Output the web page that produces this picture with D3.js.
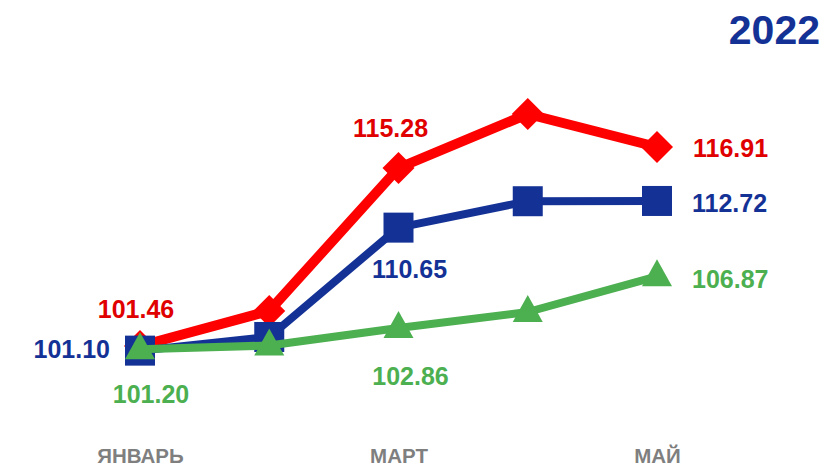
<!DOCTYPE html>
<html>
<head>
<meta charset="utf-8">
<script src="https://cdn.jsdelivr.net/npm/d3@7"></script>
<style>
  body { margin: 0; background: #fff; }
  svg { display: block; }
</style>
</head>
<body>
<div id="chart"></div>
<script>
var width = 828,
    height = 470;

var months = ["ЯНВАРЬ", "ФЕВРАЛЬ", "МАРТ", "АПРЕЛЬ", "МАЙ"];
var shownMonths = ["ЯНВАРЬ", "МАРТ", "МАЙ"];
var redValues = [101.46, 104.18, 115.28, 119.47, 116.91];
var blueValues = [101.10, 102.16, 110.65, 112.70, 112.72];
var greenValues = [101.20, 101.50, 102.86, 104.10, 106.87];
var yearLabel = "2022";

var svg = d3.select("#chart").append("svg")
  .attr("width", width)
  .attr("height", height);

var x = d3.scalePoint()
    .domain(months)
    .range([140, 657]);

var y = d3.scaleLinear()
    .domain([100, 120])
    .range([364.8, 107.2]);

var line = d3.line()
    .x(function(d, i) { return x(months[i]); })
    .y(function(d) { return y(d); });

var series = [
  {key: "red", values: redValues, color: "#ff0000", width: 10, symbol: "diamond"},
  {key: "blue", values: blueValues, color: "#143296", width: 8, symbol: "square"},
  {key: "green", values: greenValues, color: "#4caf50", width: 8, symbol: "triangle"}
];

function drawMarker(g, s, cx, cy) {
  if (s.symbol == "diamond") {
    var r = 16;
    g.append("path")
      .attr("d", "M" + cx + "," + (cy - r) + "L" + (cx + r) + "," + cy + "L" + cx + "," + (cy + r) + "L" + (cx - r) + "," + cy + "Z")
      .attr("fill", s.color);
  } else if (s.symbol == "square") {
    g.append("rect")
      .attr("x", cx - 15).attr("y", cy - 15)
      .attr("width", 30).attr("height", 30)
      .attr("fill", s.color);
  } else {
    g.append("path")
      .attr("d", "M" + cx + "," + (cy - 17) + "L" + (cx + 15) + "," + (cy + 10) + "L" + (cx - 15) + "," + (cy + 10) + "Z")
      .attr("fill", s.color);
  }
}

series.forEach(function(s) {
  var g = svg.append("g").attr("class", "series-" + s.key);
  g.append("path")
    .datum(s.values)
    .attr("fill", "none")
    .attr("stroke", s.color)
    .attr("stroke-width", s.width)
    .attr("stroke-linejoin", "round")
    .attr("d", line);
  s.values.forEach(function(v, i) {
    drawMarker(g, s, x(months[i]), y(v));
  });
});

// x axis labels (every other month)
var axis = d3.axisBottom(x)
    .tickSize(0)
    .tickPadding(0)
    .tickFormat(function(d) { return shownMonths.indexOf(d) >= 0 ? d : ""; });

var gx = svg.append("g")
    .attr("transform", "translate(0,463)")
    .call(axis);
gx.select(".domain").remove();
gx.selectAll("text")
    .attr("fill", "#7f7f7f")
    .attr("font-family", "'Liberation Sans', Arial, sans-serif")
    .attr("font-weight", "bold")
    .attr("font-size", 20.5)
    .attr("dy", 0);

// value labels
var labelFont = "'Liberation Sans', Arial, sans-serif";
function label(txt, xx, yy, color, anchor) {
  svg.append("text")
    .attr("x", xx).attr("y", yy)
    .attr("fill", color)
    .attr("font-family", labelFont)
    .attr("font-weight", "bold")
    .attr("font-size", 25)
    .attr("text-anchor", anchor)
    .text(txt);
}

var xs = months.map(function(m) { return x(m); });
label(redValues[0].toFixed(2), xs[0] - 4, 318, "#e00000", "middle");
label(redValues[2].toFixed(2), xs[2] - 8, 137, "#e00000", "middle");
label(redValues[4].toFixed(2), xs[4] + 36, 157, "#e00000", "start");
label(blueValues[0].toFixed(2), xs[0] - 30, 358, "#143296", "end");
label(blueValues[2].toFixed(2), xs[2] + 11, 278, "#143296", "middle");
label(blueValues[4].toFixed(2), xs[4] + 35, 212, "#143296", "start");
label(greenValues[0].toFixed(2), xs[0] + 11, 403, "#4caf50", "middle");
label(greenValues[2].toFixed(2), xs[2] + 12, 385, "#4caf50", "middle");
label(greenValues[4].toFixed(2), xs[4] + 35, 288, "#4caf50", "start");

svg.append("text")
  .attr("x", 820).attr("y", 44)
  .attr("fill", "#143296")
  .attr("font-family", labelFont)
  .attr("font-weight", "bold")
  .attr("font-size", 41)
  .attr("text-anchor", "end")
  .text(yearLabel);
</script>
</body>
</html>
